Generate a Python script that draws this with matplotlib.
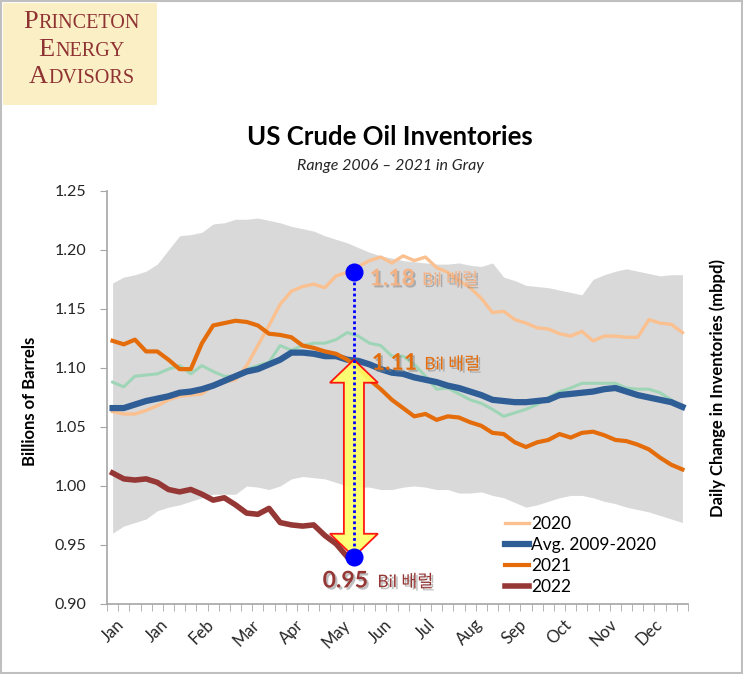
import numpy as np
import matplotlib
matplotlib.use("Agg")
import matplotlib.pyplot as plt
from matplotlib import patheffects
from matplotlib.patches import Rectangle, Polygon

plt.rcParams['font.family'] = ['Lato', 'Noto Sans CJK KR', 'DejaVu Sans']

# weekly values, billions of barrels
band_hi = [1.172, 1.177, 1.179, 1.182, 1.188, 1.200, 1.212, 1.213, 1.215, 1.222,
           1.223, 1.226, 1.226, 1.227, 1.225, 1.223, 1.220, 1.218, 1.216, 1.212,
           1.209, 1.206, 1.202, 1.198, 1.195, 1.193, 1.191, 1.190, 1.189, 1.188,
           1.188, 1.189, 1.187, 1.186, 1.189, 1.177, 1.174, 1.170, 1.169, 1.168,
           1.166, 1.164, 1.162, 1.175, 1.179, 1.182, 1.184, 1.182, 1.180, 1.178,
           1.179, 1.179]
band_lo = [0.960, 0.966, 0.969, 0.972, 0.979, 0.982, 0.984, 0.987, 0.990, 0.993,
           0.993, 0.993, 1.000, 0.999, 0.997, 1.000, 1.006, 1.008, 1.007, 1.006,
           1.003, 1.000, 0.999, 0.999, 0.997, 0.997, 0.999, 1.000, 0.999, 0.997,
           0.997, 0.994, 0.994, 0.995, 0.992, 0.990, 0.986, 0.982, 0.984, 0.987,
           0.990, 0.992, 0.992, 0.990, 0.987, 0.985, 0.982, 0.980, 0.978, 0.975,
           0.972, 0.969]
y2020 = [1.063, 1.061, 1.061, 1.064, 1.068, 1.073, 1.076, 1.077, 1.078, 1.085,
         1.088, 1.090, 1.102, 1.119, 1.136, 1.154, 1.165, 1.169, 1.171, 1.168,
         1.178, 1.181, 1.186, 1.191, 1.194, 1.189, 1.195, 1.191, 1.194, 1.185,
         1.181, 1.174, 1.168, 1.159, 1.147, 1.148, 1.141, 1.138, 1.134, 1.133,
         1.129, 1.127, 1.131, 1.123, 1.127, 1.127, 1.126, 1.126, 1.141, 1.138,
         1.137, 1.130]
y2019 = [1.088, 1.084, 1.093, 1.094, 1.095, 1.099, 1.102, 1.095, 1.102, 1.097,
         1.093, 1.093, 1.099, 1.102, 1.105, 1.119, 1.115, 1.119, 1.121, 1.121,
         1.124, 1.130, 1.127, 1.121, 1.119, 1.110, 1.110, 1.103, 1.093, 1.082,
         1.083, 1.078, 1.073, 1.070, 1.065, 1.059, 1.062, 1.065, 1.069, 1.075,
         1.080, 1.083, 1.087, 1.087, 1.087, 1.087, 1.083, 1.082, 1.082, 1.079,
         1.073, 1.067]
avg = [1.066, 1.066, 1.069, 1.072, 1.074, 1.076, 1.079, 1.080, 1.082, 1.085,
       1.089, 1.093, 1.097, 1.099, 1.103, 1.107, 1.113, 1.113, 1.112, 1.110,
       1.110, 1.107, 1.106, 1.103, 1.099, 1.096, 1.095, 1.092, 1.090, 1.088,
       1.085, 1.083, 1.080, 1.077, 1.073, 1.072, 1.071, 1.071, 1.072, 1.073,
       1.077, 1.078, 1.079, 1.080, 1.082, 1.083, 1.080, 1.077, 1.075, 1.073,
       1.071, 1.067]
y2021 = [1.123, 1.120, 1.124, 1.114, 1.114, 1.107, 1.099, 1.099, 1.121, 1.136,
         1.138, 1.140, 1.139, 1.136, 1.129, 1.128, 1.126, 1.119, 1.117, 1.114,
         1.112, 1.107, 1.100, 1.090, 1.082, 1.073, 1.066, 1.059, 1.061, 1.056,
         1.059, 1.058, 1.054, 1.051, 1.045, 1.044, 1.037, 1.033, 1.037, 1.039,
         1.044, 1.041, 1.045, 1.046, 1.043, 1.039, 1.038, 1.035, 1.031, 1.024,
         1.018, 1.014]
y2022 = [1.011, 1.006, 1.005, 1.006, 1.003, 0.997, 0.995, 0.997, 0.993, 0.988,
         0.990, 0.984, 0.977, 0.976, 0.981, 0.969, 0.967, 0.966, 0.967, 0.958,
         0.951, 0.940]
month_labels = ['Jan', 'Jan', 'Feb', 'Mar', 'Apr', 'May', 'Jun', 'Jul', 'Aug',
                'Sep', 'Oct', 'Nov', 'Dec']

weeks = np.arange(len(avg))

fig = plt.figure(figsize=(7.43, 6.74), dpi=100)
ax = fig.add_axes([0.144, 0.1039, 0.782, 0.6128])

ax.fill_between(weeks, band_lo, band_hi, color='#D9D9D9', lw=0, zorder=1)
ax.plot(weeks, y2019, color='#9FD5B7', lw=2.2, zorder=2)
ax.plot(weeks, y2020, color='#FAC08F', lw=2.4, zorder=3, label='2020')
ax.plot(weeks, avg, color='#2F5D96', lw=4.5, zorder=4, label='Avg. 2009-2020')
ax.plot(weeks, y2021, color='#E46C0A', lw=3, zorder=5, label='2021')
ax.plot(np.arange(len(y2022)), y2022, color='#953735', lw=4, zorder=6, label='2022')

# annotation: 2022 vs avg
mx = len(y2022) - 1 + 0.6
lo = y2022[-1]
hi = avg[len(y2022) - 1]
top = y2020[len(y2022) - 1]
sw, hw, hl = 0.9, 2.15, 0.0195
arrow = [(mx, hi), (mx + hw, hi - hl), (mx + sw, hi - hl), (mx + sw, lo + hl),
         (mx + hw, lo + hl), (mx, lo), (mx - hw, lo + hl), (mx - sw, lo + hl),
         (mx - sw, hi - hl), (mx - hw, hi - hl)]
ax.add_patch(Polygon(arrow, closed=True, facecolor='#FFFF66', edgecolor='#FF0000',
                     lw=1.3, alpha=0.9, zorder=7))
ax.plot([mx, mx], [lo, top], color='#0000FF', lw=2, ls=(0, (1, 1)), zorder=8)
ax.plot([mx, mx], [lo, top], 'o', color='#0000FF', ms=12, zorder=9)

shadow = [patheffects.withSimplePatchShadow(offset=(1.5, -1.5), shadow_rgbFace='#7F7F7F', alpha=0.5)]
notes = [(23.0, 27.7, 1.1755, '1.18', '#F4B183'),
         (23.2, 27.9, 1.104, '1.11', '#E46C0A'),
         (18.8, 23.7, 0.9195, '0.95', '#953735')]
for x1, x2, yv, num, c in notes:
    ax.text(x1, yv, num, color=c, fontsize=16.5, fontweight='bold', va='center',
            path_effects=shadow, zorder=10)
    ax.text(x2, yv - 0.001, 'Bil 배럴', color=c, fontsize=12.5, va='center',
            path_effects=shadow, zorder=10)

ax.set_xlim(-0.5, len(avg) - 0.5)
ax.set_ylim(0.90, 1.25)
ax.set_yticks(np.arange(0.90, 1.2501, 0.05))
ax.set_yticklabels([f'{v:.2f}' for v in np.arange(0.90, 1.2501, 0.05)])
ax.set_xticks(weeks[::4][:len(month_labels)])
ax.set_xticklabels(month_labels, rotation=45, ha='center')
ax.set_xticks(np.arange(-0.5, len(avg)), minor=True)
ax.tick_params(axis='x', which='major', length=0, pad=9, labelsize=12, labelcolor='#262626')
ax.tick_params(axis='x', which='minor', length=5, color='#A6A6A6', direction='out')
ax.tick_params(axis='y', length=5, color='#A6A6A6', pad=10, labelsize=11.5, labelcolor='#262626')
for s in ['top', 'right']:
    ax.spines[s].set_visible(False)
for s in ['left', 'bottom']:
    ax.spines[s].set_color('#A6A6A6')
    ax.spines[s].set_linewidth(1.2)
ax.set_facecolor('white')

ax.legend(loc='upper left', bbox_to_anchor=(0.67, 0.245), bbox_transform=fig.transFigure,
          frameon=False, fontsize=12.5, handlelength=1.4, handletextpad=0.1,
          labelspacing=0.3, borderaxespad=0)

fig.text(0.04, 0.405, 'Billions of Barrels', rotation=90, fontsize=12, fontweight='bold',
         ha='center', va='center')
fig.text(0.966, 0.425, 'Daily Change in Inventories (mbpd)', rotation=90, fontsize=12,
         fontweight='bold', ha='center', va='center')
fig.text(0.525, 0.797, 'US Crude Oil Inventories', fontsize=18.5, fontweight='bold',
         ha='center', va='center')
fig.text(0.525, 0.753, 'Range 2006 \u2013 2021 in Gray', fontsize=11.5, style='italic',
         ha='center', va='center', color='#262626')

# logo box
fig.patches.append(Rectangle((3 / 743, 1 - 105 / 674), 154 / 743, 102 / 674,
                             transform=fig.transFigure, facecolor='#FBEFC6',
                             edgecolor='none', zorder=0))
fig.patches.append(Rectangle((0.001, 0.001), 0.998, 0.998, transform=fig.transFigure,
                             fill=False, edgecolor='#BFBFBF', lw=1.5))
renderer = fig.canvas.get_renderer()
logo = [('PRINCETON', 28), ('ENERGY', 56), ('ADVISORS', 83)]
for word, base in logo:
    kw = dict(family='Liberation Serif', color='#8E3232', va='baseline')
    t1 = fig.text(0, 1 - base / 674, word[0], fontsize=19, **kw)
    t2 = fig.text(0, 1 - base / 674, word[1:], fontsize=14.5, **kw)
    w1 = t1.get_window_extent(renderer).width
    w2 = t2.get_window_extent(renderer).width
    x0 = 81 - (w1 + w2) / 2
    t1.set_x(x0 / 743)
    t2.set_x((x0 + w1 + 0.5) / 743)

plt.savefig('out.png', dpi=100)
